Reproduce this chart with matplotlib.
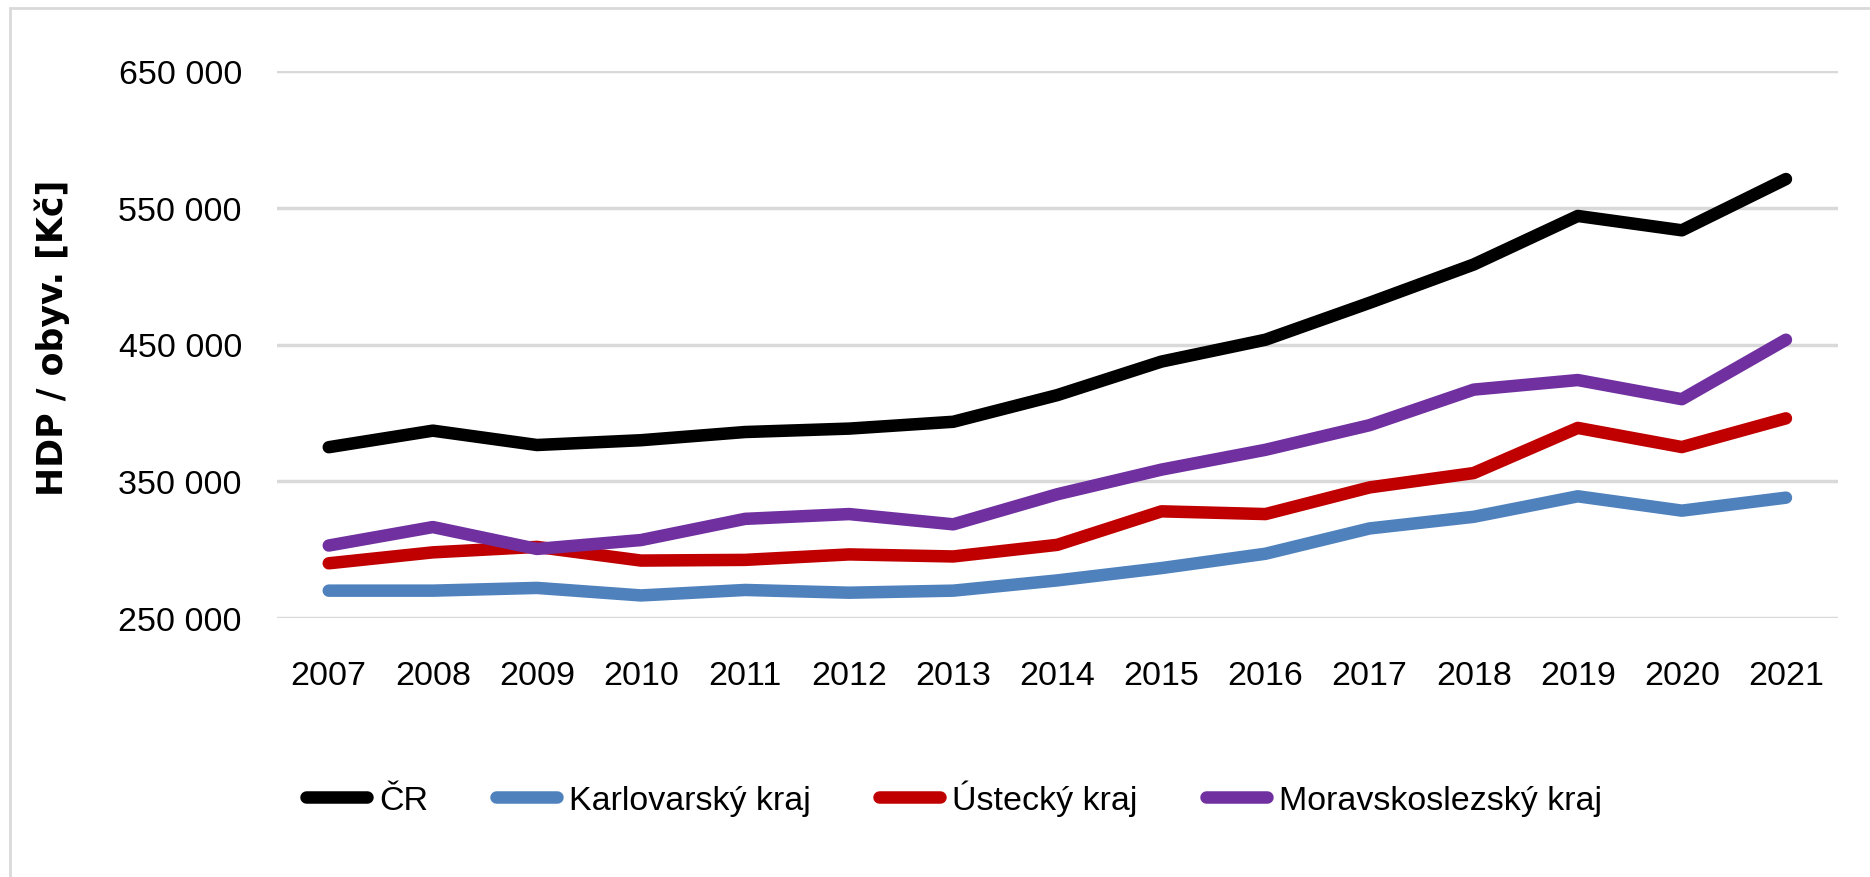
import matplotlib
matplotlib.use("Agg")
import matplotlib.pyplot as plt
from matplotlib.patches import Rectangle
from matplotlib.ticker import FuncFormatter

years = ["2007", "2008", "2009", "2010", "2011", "2012", "2013", "2014",
         "2015", "2016", "2017", "2018", "2019", "2020", "2021"]

cr = [374900, 387000, 376500, 380000, 386000, 388500, 393500, 413000,
      437500, 453500, 480500, 508500, 544000, 533500, 571000]
karlovarsky = [270000, 270000, 272000, 266500, 270500, 268500, 270000, 277500,
               286500, 297000, 315500, 324000, 339000, 328500, 338000]
ustecky = [290000, 298000, 302000, 292000, 292500, 296500, 295000, 303500,
           328000, 326000, 345500, 356000, 389000, 375000, 396000]
moravskoslezsky = [303000, 316500, 300500, 307000, 322500, 326000, 318500, 340500,
                   358500, 373000, 391000, 417000, 424000, 410000, 453500]

series_names = ["ČR", "Karlovarský kraj", "Ústecký kraj", "Moravskoslezský kraj"]
series_colors = ["#000000", "#4f81bd", "#c00000", "#7030a0"]

y_ticks = [250000, 350000, 450000, 550000, 650000]

narrow = ["Liberation Sans", "DejaVu Sans"]

fig = plt.figure(figsize=(18.7, 8.78), dpi=100)
ax = fig.add_axes([276.7 / 1870, 1 - 619 / 878, (1838 - 276.7) / 1870, (619 - 72) / 878])

# chart area border (only top and left edge visible in the crop)
fig.patches.append(Rectangle((10 / 1870, -0.2), 1.2, 1.2 - 9 / 878,
                             transform=fig.transFigure, fill=False,
                             edgecolor="#d9d9d9", linewidth=2.0))

x = range(len(years))
for vals, name, col in zip([cr, karlovarsky, ustecky, moravskoslezsky],
                           series_names, series_colors):
    ax.plot(x, vals, color=col, linewidth=9, label=name,
            solid_capstyle="round", solid_joinstyle="round", zorder=3)

ax.set_xlim(-0.5, len(years) - 0.5)
ax.set_ylim(250000, 650000)
ax.set_yticks(y_ticks)
ax.yaxis.set_major_formatter(FuncFormatter(lambda v, p: f"{int(v):,}".replace(",", " ")))
ax.set_xticks(list(x))
ax.set_xticklabels(years)

ax.grid(axis="y", color="#d9d9d9", linewidth=2.5, zorder=0)
ax.grid(axis="x", visible=False)
for s in ax.spines.values():
    s.set_visible(False)
ax.tick_params(axis="both", length=0, labelsize=24.5, labelcolor="#000000")
ax.tick_params(axis="y", pad=25)
ax.tick_params(axis="x", pad=30)
for lab in ax.get_xticklabels() + ax.get_yticklabels():
    lab.set_family(narrow)

fig.text(52 / 1870, 1 - 338 / 878, "HDP / obyv. [Kč]", rotation=90,
         ha="center", va="center", fontsize=25, fontweight="bold",
         family="DejaVu Sans")

leg = fig.legend(loc="center", bbox_to_anchor=(0.51, 0.09), ncol=4, frameon=False,
                 prop={"family": narrow, "size": 24.5}, handlelength=1.8,
                 handletextpad=0.35, columnspacing=2.0)
for h in leg.get_lines():
    h.set_linewidth(9)
    h.set_solid_capstyle("round")

fig.savefig("out.png", dpi=100)
